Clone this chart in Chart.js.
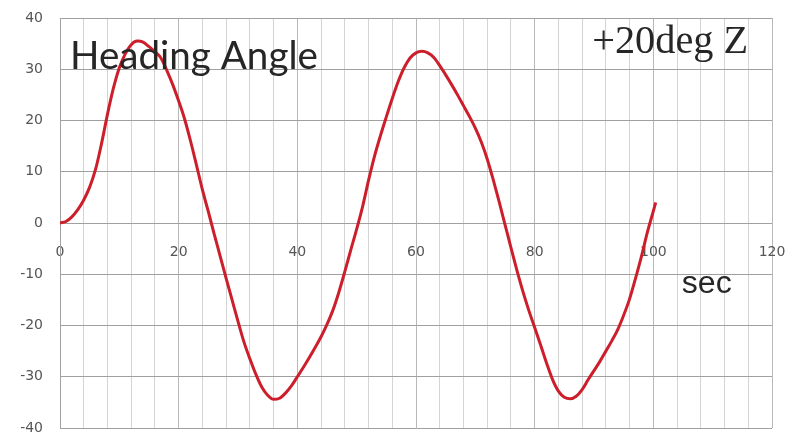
<!DOCTYPE html>
<html>
<head>
<meta charset="utf-8">
<script src="https://cdn.jsdelivr.net/npm/chart.js@4.4.0/dist/chart.umd.min.js"></script>
<style>
  html, body { margin: 0; padding: 0; background: #fff; }
  #wrap { width: 792px; height: 437px; }
</style>
</head>
<body>
<div id="wrap"><canvas id="headingChart"></canvas></div>
<script>
// time in seconds and heading angle in degrees
const seconds = [0, 1, 2, 3, 4, 5, 6, 7, 8, 9, 10, 11, 12, 13, 14, 15, 16, 17, 18, 19,
  20, 21, 22, 23, 24, 25, 26, 27, 28, 29, 30, 31, 32, 33, 34, 35, 36, 37, 38, 39,
  40, 41, 42, 43, 44, 45, 46, 47, 48, 49, 50, 51, 52, 53, 54, 55, 56, 57, 58, 59,
  60, 61, 62, 63, 64, 65, 66, 67, 68, 69, 70, 71, 72, 73, 74, 75, 76, 77, 78, 79,
  80, 81, 82, 83, 84, 85, 86, 87, 88, 89, 90, 91, 92, 93, 94, 95, 96, 97, 98, 99,
  100, 100.4];
const heading = [0, 0.3, 1.2, 2.6, 4.5, 7, 10.5, 15.5, 21.2, 26.3, 30.3, 33, 34.8, 35.5, 35.3, 34.4, 33.4, 32.2, 29.8, 27,
  23.8, 20.3, 16, 11.3, 6.5, 2.2, -2.2, -6.5, -10.8, -15, -19.2, -23.2, -26.5, -29.5, -32, -33.6, -34.4, -34.2, -33.2, -31.8,
  -30, -28.2, -26.3, -24.3, -22.2, -19.8, -17, -13.5, -9.5, -5.3, -1.2, 3.2, 8.3, 13, 17, 20.7, 24.3, 27.6, 30.3, 32.2,
  33.2, 33.5, 33.2, 32.3, 30.7, 28.9, 27, 25, 22.9, 20.8, 18.5, 15.8, 12.5, 8.5, 4.2, -0.3, -4.8, -9.2, -13.3, -17,
  -20.4, -23.8, -27.3, -30.5, -32.8, -34, -34.3, -33.8, -32.5, -30.6, -28.8, -27, -25, -23, -20.8, -18, -14.8, -10.8, -6.5, -1.8,
  2.3, 4];
const xTickLabels = [0, 20, 40, 60, 80, 100, 120];
const yTickLabels = [-40, -30, -20, -10, 0, 10, 20, 30, 40];

const points = seconds.map((t, i) => ({ x: t, y: heading[i] }));

// scale a font so the text fills a given width
function fitFont(ctx, text, family, width) {
  ctx.font = "100px " + family;
  const size = 100 * width / ctx.measureText(text).width;
  return size.toFixed(1) + "px " + family;
}

const notes = {
  id: "notes",
  afterDraw(chart) {
    const { ctx, scales: { x, y } } = chart;
    ctx.save();
    ctx.textBaseline = "alphabetic";
    ctx.fillStyle = "#262626";
    ctx.font = fitFont(ctx, "Heading Angle", "Lato", 248);
    ctx.fillText("Heading Angle", x.getPixelForValue(1.7), y.getPixelForValue(30));
    ctx.font = fitFont(ctx, "+20deg Z", "'Liberation Serif'", 156);
    ctx.fillText("+20deg Z", x.getPixelForValue(89.7), y.getPixelForValue(33.2));
    ctx.font = fitFont(ctx, "sec", "'Liberation Sans'", 50);
    ctx.fillText("sec", x.getPixelForValue(104.8), y.getPixelForValue(-13.7));
    ctx.restore();
  }
};

const ctx = document.getElementById("headingChart").getContext("2d");
new Chart(ctx, {
  type: "line",
  data: {
    datasets: [
      {
        label: "Heading Angle",
        data: points,
        borderColor: "#cc1f2b",
        borderWidth: 3,
        pointRadius: 0,
        cubicInterpolationMode: "monotone",
        fill: false,
      },
    ],
  },
  options: {
    responsive: true,
    maintainAspectRatio: false,
    animation: false,
    layout: { padding: { top: 18, right: 20, bottom: 9, left: 0 } },
    plugins: {
      legend: { display: false },
      tooltip: { enabled: false },
    },
    scales: {
      x: {
        type: "linear",
        position: { y: 0 },
        min: 0,
        max: 120,
        border: { display: false },
        grid: {
          drawTicks: false,
          color: (c) => (c.tick && c.tick.value % 20 === 0 ? "#b8b8b8" : "#d4d4d4"),
          lineWidth: 1,
        },
        ticks: {
          stepSize: 4,
          autoSkip: false,
          maxRotation: 0,
          padding: 21,
          color: "#555",
          font: { family: "'DejaVu Sans'", size: 14 },
          callback: (v) => (xTickLabels.includes(v) ? String(v) : ""),
        },
        afterFit: (scale) => {
          // axis sits on the zero line, so it should take no room
          scale.height = 0;
          scale.paddingLeft = 0;
          scale.paddingRight = 0;
        },
      },
      y: {
        min: -40,
        max: 40,
        border: { color: "#a0a0a0" },
        grid: { drawTicks: false, color: "#a0a0a0", lineWidth: 1 },
        ticks: {
          stepSize: 10,
          padding: 17,
          color: "#555",
          font: { family: "'DejaVu Sans'", size: 14 },
          callback: (v) => (yTickLabels.includes(v) ? String(v) : ""),
        },
        afterFit: (scale) => {
          scale.width = 60;
          scale.paddingTop = 0;
          scale.paddingBottom = 0;
        },
      },
    },
  },
  plugins: [notes],
});
</script>
</body>
</html>
